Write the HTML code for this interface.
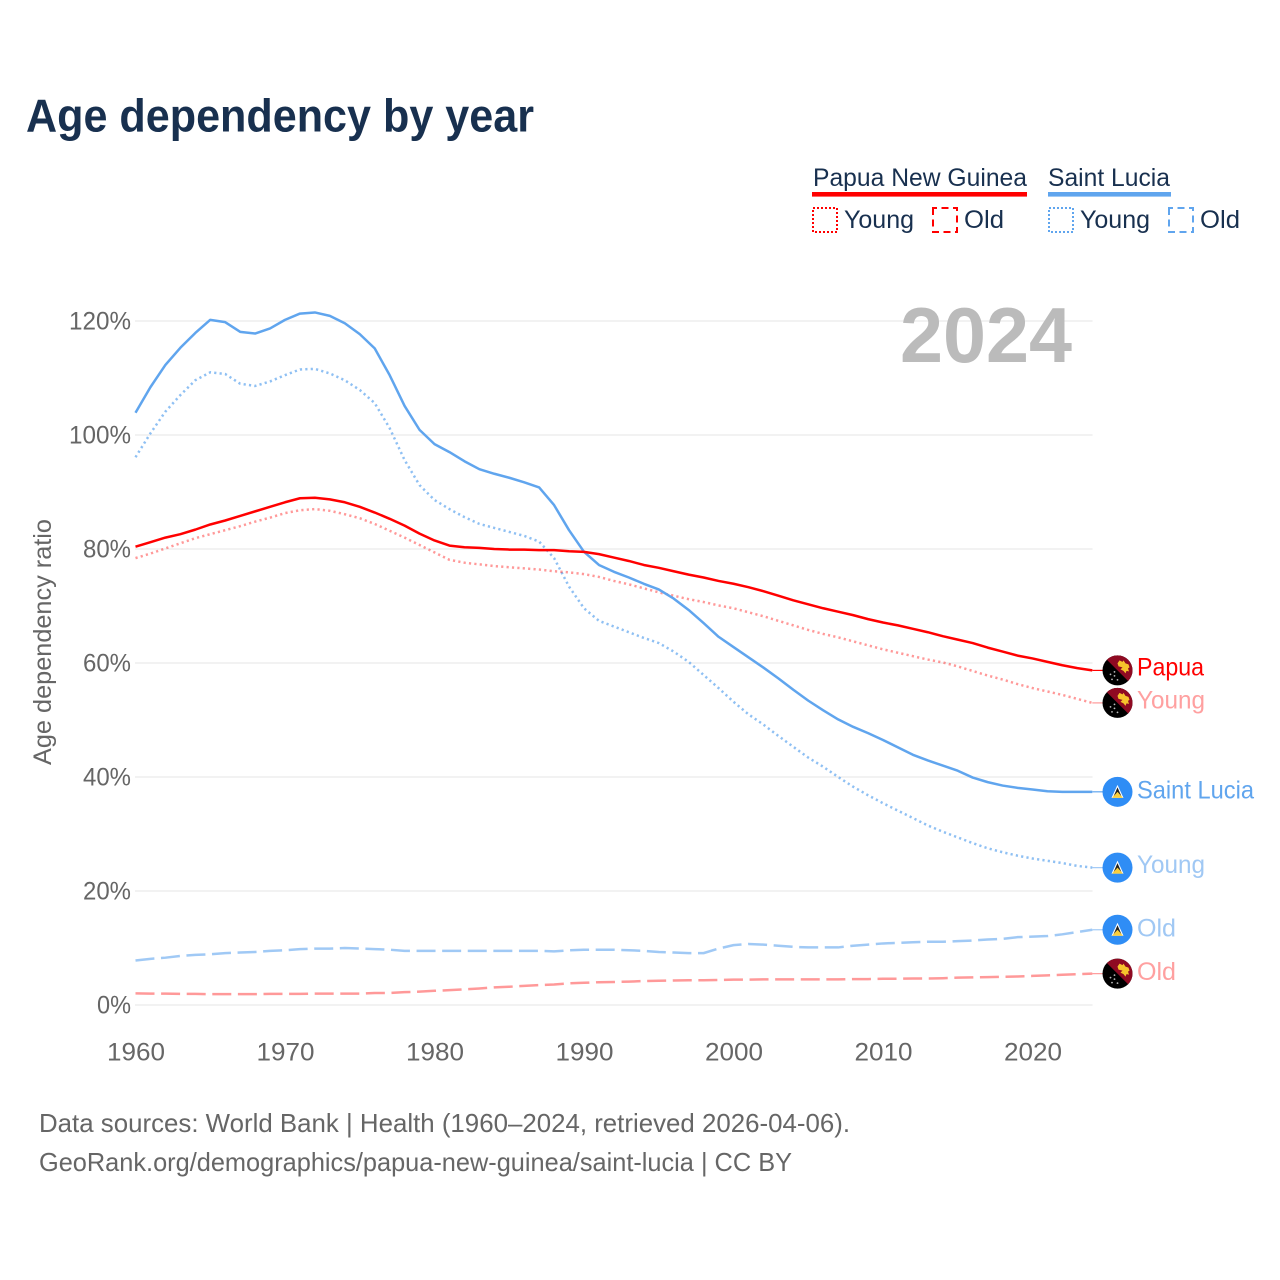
<!DOCTYPE html>
<html lang="en">
<head>
<meta charset="utf-8">
<title>Age dependency by year</title>
<style>
html,body{margin:0;padding:0;background:#fff;}
svg{display:block;font-family:"Liberation Sans","DejaVu Sans",sans-serif;}
</style>
</head>
<body>
<svg id="chart" xmlns="http://www.w3.org/2000/svg" width="1280" height="1280" viewBox="0 0 1280 1280">
  <rect width="1280" height="1280" fill="#fff"/>
  <text x="26" y="131.5" font-size="46" font-weight="700" fill="#18304f" textLength="508" lengthAdjust="spacingAndGlyphs">Age dependency by year</text>

  <g font-size="25" fill="#18304f">
    <text x="813" y="186" textLength="214" lengthAdjust="spacingAndGlyphs">Papua New Guinea</text>
    <rect x="812" y="192" width="215" height="4.6" fill="#ff0000"/>
    <text x="1048" y="186" textLength="122" lengthAdjust="spacingAndGlyphs">Saint Lucia</text>
    <rect x="1048" y="192" width="123" height="4.6" fill="#60a5ee"/>
    <rect x="813" y="208" width="24" height="24" fill="none" stroke="#ff0000" stroke-width="2" stroke-dasharray="2 2"/>
    <text x="844" y="228" textLength="70" lengthAdjust="spacingAndGlyphs">Young</text>
    <rect x="933" y="208" width="24" height="24" fill="none" stroke="#ff0000" stroke-width="2" stroke-dasharray="7 4.5" stroke-dashoffset="3"/>
    <text x="964" y="228" textLength="40" lengthAdjust="spacingAndGlyphs">Old</text>
    <rect x="1049" y="208" width="24" height="24" fill="none" stroke="#60a5ee" stroke-width="2" stroke-dasharray="2 2"/>
    <text x="1080" y="228" textLength="70" lengthAdjust="spacingAndGlyphs">Young</text>
    <rect x="1169" y="208" width="24" height="24" fill="none" stroke="#60a5ee" stroke-width="2" stroke-dasharray="7 4.5" stroke-dashoffset="3"/>
    <text x="1200" y="228" textLength="40" lengthAdjust="spacingAndGlyphs">Old</text>
  </g>

  <g id="grid"></g>
  <g id="yticks" font-size="25" fill="#666"></g>
  <g id="xticks" font-size="25" fill="#666"></g>

  <text x="900" y="362" font-size="78" font-weight="700" fill="#bbbbbb" textLength="172" lengthAdjust="spacingAndGlyphs">2024</text>
  <text transform="translate(51,642) rotate(-90)" text-anchor="middle" font-size="25" fill="#666" textLength="246" lengthAdjust="spacingAndGlyphs">Age dependency ratio</text>

  <g id="series" fill="none"></g>
  <g id="endlabels" font-size="25"></g>

  <text x="39" y="1132" font-size="26" fill="#666" textLength="811" lengthAdjust="spacingAndGlyphs">Data sources: World Bank | Health (1960–2024, retrieved 2026-04-06).</text>
  <text x="39" y="1171" font-size="26" fill="#666" textLength="753" lengthAdjust="spacingAndGlyphs">GeoRank.org/demographics/papua-new-guinea/saint-lucia | CC BY</text>

  <defs>
    <clipPath id="flag-clip"><circle cx="0" cy="0" r="15"/></clipPath>
  </defs>
</svg>
<script>
const startYear = 1960;
const yTickValues = [0, 20, 40, 60, 80, 100, 120];
const xTickYears = [1960, 1970, 1980, 1990, 2000, 2010, 2020];

const slTotal = [103.9,108.4,112.3,115.3,117.9,120.2,119.8,118.1,117.8,118.7,120.2,121.3,121.5,120.9,119.6,117.7,115.2,110.5,105.1,100.9,98.4,97,95.4,94,93.2,92.5,91.7,90.8,87.7,83.3,79.5,77.2,76,75,73.9,72.9,71.3,69.3,67,64.6,62.8,61,59.2,57.3,55.3,53.4,51.7,50.1,48.8,47.7,46.5,45.2,43.9,42.9,42,41.1,39.9,39.1,38.5,38.1,37.8,37.5,37.4,37.4,37.4];
const slYoung = [96.1,100.3,104.1,107,109.6,111,110.7,109,108.6,109.4,110.5,111.5,111.6,110.8,109.6,107.9,105.6,101.2,95.6,91.2,88.6,87,85.6,84.4,83.7,83,82.3,81.3,78.4,73.4,69.6,67.4,66.4,65.4,64.4,63.5,62,60.2,57.9,55.6,53.2,51,49.2,47.2,45.3,43.4,41.8,40,38.3,36.8,35.4,34.1,32.8,31.5,30.4,29.4,28.4,27.5,26.8,26.2,25.7,25.3,24.9,24.4,24.1];
const slOld = [7.8,8.1,8.3,8.6,8.8,8.9,9.1,9.2,9.3,9.5,9.6,9.8,9.9,9.9,10,9.9,9.8,9.7,9.5,9.5,9.5,9.5,9.5,9.5,9.5,9.5,9.5,9.5,9.4,9.6,9.7,9.7,9.7,9.6,9.5,9.3,9.2,9.1,9.1,9.9,10.5,10.7,10.6,10.4,10.2,10.1,10.1,10.1,10.4,10.6,10.8,10.9,11,11.1,11.1,11.2,11.3,11.5,11.6,11.9,12,12.1,12.4,12.8,13.2];
const pngTotal = [80.4,81.2,82,82.6,83.4,84.3,85,85.8,86.6,87.4,88.2,88.9,89,88.7,88.2,87.4,86.4,85.3,84.1,82.7,81.5,80.6,80.3,80.2,80,79.9,79.9,79.8,79.8,79.6,79.5,79.1,78.5,77.9,77.2,76.7,76.1,75.5,75,74.4,73.9,73.3,72.6,71.8,71,70.3,69.6,69,68.4,67.7,67.1,66.6,66,65.4,64.7,64.1,63.5,62.7,62,61.3,60.8,60.2,59.6,59.1,58.7];
const pngYoung = [78.4,79.2,80.1,81,81.9,82.6,83.3,84,84.8,85.5,86.3,86.8,87,86.7,86.1,85.4,84.4,83.2,82,80.7,79.4,78.1,77.6,77.3,77,76.8,76.6,76.4,76.1,75.9,75.6,75.1,74.4,73.8,73.1,72.4,71.8,71.2,70.7,70.1,69.6,68.9,68.2,67.4,66.6,65.8,65.1,64.5,63.8,63.1,62.4,61.8,61.2,60.6,60.1,59.4,58.6,57.8,57.1,56.3,55.6,55,54.4,53.7,53];
const pngOld = [2.05,2,2,1.95,1.95,1.9,1.9,1.9,1.9,1.95,1.95,1.95,2,2,2,2,2.1,2.1,2.25,2.35,2.5,2.6,2.75,2.9,3.1,3.2,3.35,3.5,3.6,3.8,3.9,4,4.04,4.1,4.2,4.25,4.3,4.35,4.35,4.4,4.45,4.45,4.5,4.5,4.5,4.5,4.5,4.5,4.55,4.55,4.6,4.6,4.65,4.65,4.7,4.8,4.85,4.9,4.95,5,5.1,5.2,5.3,5.4,5.5];

const NS = 'http://www.w3.org/2000/svg';
function xScale(year) { return 135.5 + (year - startYear) * 14.95; }
function yScale(value) { return 1005 - value * 5.7; }
function make(tag, attrs, parent) {
  const el = document.createElementNS(NS, tag);
  for (const k in attrs) el.setAttribute(k, attrs[k]);
  parent.appendChild(el);
  return el;
}

const gridGroup = document.getElementById('grid');
const yGroup = document.getElementById('yticks');
yTickValues.forEach(function (v) {
  const line = make('line', {x1: 135, x2: 1092.5, y1: yScale(v), y2: yScale(v), stroke: '#eeeeee', 'stroke-width': 1.5}, gridGroup);
  
  
  const label = v + '%';
  const t = make('text', {x: 131, y: yScale(v) + 8.5, 'text-anchor': 'end', textLength: 14 * label.length + 6, lengthAdjust: 'spacingAndGlyphs'}, yGroup);
  t.textContent = label;
  
  
});

const xGroup = document.getElementById('xticks');
xTickYears.forEach(function (yr) {
  const t = make('text', {x: xScale(yr) + 0.5, y: 1060.5, 'text-anchor': 'middle', textLength: 58, lengthAdjust: 'spacingAndGlyphs'}, xGroup);
  t.textContent = String(yr);
  
  
});

function linePath(values) {
  return values.map(function (v, i) {
    return (i ? 'L' : 'M') + xScale(startYear + i).toFixed(2) + ' ' + yScale(v).toFixed(2);
  }).join(' ');
}

const seriesGroup = document.getElementById('series');
function drawSeries(values, color, opacity, dash, name) {
  const attrs = {d: linePath(values), stroke: color, 'stroke-opacity': opacity, 'stroke-width': 2.5, 'stroke-linejoin': 'round'};
  if (dash) attrs['stroke-dasharray'] = dash;
  const p = make('path', attrs, seriesGroup);
  
  
}
const DOT = '2.2 3.2';
const DASH = '19 6.6';
drawSeries(pngOld, '#ff0000', 0.4, DASH, 'line-papua-old');
drawSeries(slOld, '#60a5ee', 0.6, DASH, 'line-saint-lucia-old');
drawSeries(slYoung, '#60a5ee', 0.7, DOT, 'line-saint-lucia-young');
drawSeries(pngYoung, '#ff0000', 0.4, DOT, 'line-papua-young');
drawSeries(slTotal, '#60a5ee', 1, null, 'line-saint-lucia-total');
drawSeries(pngTotal, '#ff0000', 1, null, 'line-papua-total');

const endGroup = document.getElementById('endlabels');
function flagPapua(g) {
  make('circle', {r: 15, fill: '#000000'}, g);
  make('path', {d: 'M-15 -15 L15 -15 L15 15 Z', fill: '#8f0a22', 'clip-path': 'url(#flag-clip)'}, g);
  make('path', {d: 'M0 -7 L2 -10 L5 -8.5 L6 -10 L8 -7 L11 -6 L12 -3 L10.5 -2 L11.5 1 L9 0.5 L8 3 L6 0.5 L3 -1 L5 -3 L1 -4 Z', fill: '#f6c32c'}, g);
  [[-3, 1.5], [-7, 4], [-3, 5.5], [-5.5, 9], [0, 9.5]].forEach(function (s) {
    make('circle', {cx: s[0], cy: s[1], r: 0.9, fill: '#bbbbbb'}, g);
  });
}
function flagLucia(g) {
  make('circle', {r: 15, fill: '#2f8df5'}, g);
  make('path', {d: 'M0 -7 L6 6 L-6 6 Z', fill: '#ffffff'}, g);
  make('path', {d: 'M0 -4.5 L4.2 5 L-4.2 5 Z', fill: '#222222'}, g);
  make('path', {d: 'M0 0 L5.5 6 L-5.5 6 Z', fill: '#fbcf3c'}, g);
}
function drawEnd(values, lineColor, lineOpacity, textColor, label, width, baselineShift, drawFlag, name) {
  const last = values[values.length - 1];
  const cy = yScale(last);
  const link = make('line', {x1: xScale(startYear + values.length - 1), y1: cy, x2: 1103, y2: cy, stroke: lineColor, 'stroke-opacity': lineOpacity, 'stroke-width': 1.2}, endGroup);
  
  
  const flag = make('g', {transform: 'translate(1117.5,' + cy.toFixed(2) + ')'}, endGroup);
  
  
  drawFlag(flag);
  const t = make('text', {x: 1137, y: cy + baselineShift, fill: textColor, textLength: width, lengthAdjust: 'spacingAndGlyphs'}, endGroup);
  t.textContent = label;
  
  
}
drawEnd(pngTotal, '#ff0000', 1, '#ff0000', 'Papua', 67, 5, flagPapua, 'end-papua-total');
drawEnd(pngYoung, '#ff0000', 0.4, '#ffa0a0', 'Young', 68, 5.5, flagPapua, 'end-papua-young');
drawEnd(slTotal, '#60a5ee', 1, '#60a5ee', 'Saint Lucia', 117, 6.5, flagLucia, 'end-saint-lucia-total');
drawEnd(slYoung, '#60a5ee', 0.6, '#a0c8f4', 'Young', 68, 5.5, flagLucia, 'end-saint-lucia-young');
drawEnd(slOld, '#60a5ee', 0.6, '#a0c8f4', 'Old', 39, 6.5, flagLucia, 'end-saint-lucia-old');
drawEnd(pngOld, '#ff0000', 0.4, '#ffa0a0', 'Old', 39, 6.5, flagPapua, 'end-papua-old');
</script>
</body>
</html>
